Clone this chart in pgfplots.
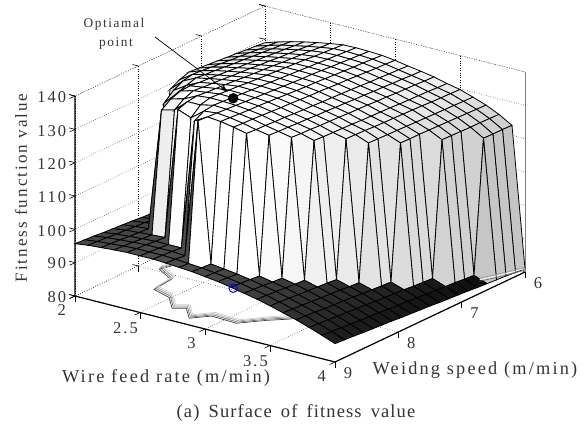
\documentclass[border=0pt]{standalone}
\usepackage{fontspec}
\setmainfont{Liberation Serif}
\newfontfamily\lblfont[LetterSpace=12]{Liberation Serif}
\newfontfamily\capfont[LetterSpace=6,WordSpace=1.6]{Liberation Serif}
\usepackage{pgfplots}
\pgfplotsset{compat=1.18}
\usetikzlibrary{calc,arrows.meta}
\definecolor{txt}{gray}{0.2}
\pgfplotstableread{
x y z
2.16 7.79 80
2.13 7.92 80
2.30 8.08 80
2.32 8.39 80
2.48 8.48 80
2.61 8.70 80
2.68 8.62 80
2.80 8.82 80
2.89 8.65 80
3.09 8.67 80
3.21 8.44 80
3.31 8.29 80
3.60 7.60 80
}\contourtab
\pgfplotstableread{
x y z
3.89 6.49 81
3.95 6.25 81
4.00 6.00 81
}\contourend
\begin{document}
\begin{tikzpicture}
\begin{axis}[
    disabledatascaling,
    x={(130pt,-33pt)}, y={(63.33pt,30pt)}, z={(0pt,3.333pt)},
    y dir=reverse,
    xmin=2, xmax=4, ymin=6, ymax=9, zmin=80, zmax=140,
    xtick={2,2.5,3,3.5,4}, ytick={6,7,8,9}, ztick={80,90,...,140},
    xtick pos=left, ytick pos=left, ztick pos=left, zticklabel pos=left,
    tick align=outside, major tick length=6pt,
    tick style={black, line width=0.6pt},
    axis line style={draw=none},
    grid=major, grid style={dotted, black, line width=0.55pt},
    /pgf/number format/assume math mode=true,
    ticklabel style={font=\lblfont\fontsize{16.5}{16.5}\selectfont, text=txt},
    xticklabel style={xshift=-2pt, yshift=-2pt},
    zticklabel style={yshift=3pt},
    colormap={bw}{gray(0cm)=(0); gray(1cm)=(1)},
    point meta min=80, point meta max=136,
    clip=false,
]
% box edges behind the surface
\draw[dotted, black!70, line width=0.6pt] (axis cs:2,6,140) -- (axis cs:2,9,140);
\draw[dotted, black!70, line width=0.6pt] (axis cs:2,6,140) -- (axis cs:4,6,140);
\draw[black!50, line width=0.8pt] (axis cs:4,6,80) -- (axis cs:4,6,140);
\addplot3[black!75, no marks, line width=0.7pt, xshift=-1.2pt, yshift=-1.2pt] table[x=x,y=y,z=z] {\contourtab};
\addplot3[black!55, no marks, line width=0.7pt] table[x=x,y=y,z=z] {\contourtab};
\addplot3[black!35, no marks, line width=0.7pt, xshift=1.2pt, yshift=1.2pt] table[x=x,y=y,z=z] {\contourtab};
\addplot3[black!20, no marks, line width=0.7pt, xshift=2.4pt, yshift=2.4pt] table[x=x,y=y,z=z] {\contourtab};
\addplot3[surf, shader=flat corner, draw=black, line width=0.8pt, z buffer=none,
    mesh/rows=21, mesh/cols=21, mesh/ordering=y varies] coordinates {
(2.0,6,129) (2.0,6.15,129.3) (2.0,6.3,129.5) (2.0,6.45,129.8) (2.0,6.6,130) (2.0,6.75,130.3) (2.0,6.9,130.5) (2.0,7.05,130.8) (2.0,7.2,131) (2.0,7.35,130) (2.0,7.5,128.5) (2.0,7.65,93.7) (2.0,7.8,93.9) (2.0,7.95,94.1) (2.0,8.1,94.4) (2.0,8.25,94.6) (2.0,8.4,94.8) (2.0,8.55,95) (2.0,8.7,95.3) (2.0,8.85,95.5) (2.0,9,95.7)
(2.1,6,130.2) (2.1,6.15,130.5) (2.1,6.3,130.7) (2.1,6.45,131) (2.1,6.6,131.3) (2.1,6.75,131.5) (2.1,6.9,131.8) (2.1,7.05,132.1) (2.1,7.2,132.4) (2.1,7.35,132.6) (2.1,7.5,132) (2.1,7.65,130.5) (2.1,7.8,128) (2.1,7.95,94.6) (2.1,8.1,94.9) (2.1,8.25,95.1) (2.1,8.4,95.3) (2.1,8.55,95.5) (2.1,8.7,95.8) (2.1,8.85,96) (2.1,9,96.2)
(2.2,6,131.3) (2.2,6.15,131.6) (2.2,6.3,131.8) (2.2,6.45,132.1) (2.2,6.6,132.3) (2.2,6.75,132.6) (2.2,6.9,132.8) (2.2,7.05,133.1) (2.2,7.2,133.4) (2.2,7.35,133.6) (2.2,7.5,133.9) (2.2,7.65,133) (2.2,7.8,132) (2.2,7.95,130) (2.2,8.1,95.2) (2.2,8.25,95.4) (2.2,8.4,95.6) (2.2,8.55,95.8) (2.2,8.7,96.1) (2.2,8.85,96.3) (2.2,9,96.5)
(2.3,6,132.2) (2.3,6.15,132.4) (2.3,6.3,132.7) (2.3,6.45,132.9) (2.3,6.6,133.2) (2.3,6.75,133.4) (2.3,6.9,133.7) (2.3,7.05,133.9) (2.3,7.2,134.2) (2.3,7.35,134.4) (2.3,7.5,134.7) (2.3,7.65,134.9) (2.3,7.8,135.2) (2.3,7.95,135) (2.3,8.1,134) (2.3,8.25,132) (2.3,8.4,95.9) (2.3,8.55,96.1) (2.3,8.7,96.4) (2.3,8.85,96.6) (2.3,9,96.8)
(2.4,6,133) (2.4,6.15,133.2) (2.4,6.3,133.5) (2.4,6.45,133.7) (2.4,6.6,133.9) (2.4,6.75,134.2) (2.4,6.9,134.4) (2.4,7.05,134.7) (2.4,7.2,134.9) (2.4,7.35,135.1) (2.4,7.5,135.4) (2.4,7.65,135.6) (2.4,7.8,135.8) (2.4,7.95,136.1) (2.4,8.1,135) (2.4,8.25,133) (2.4,8.4,96.1) (2.4,8.55,96.3) (2.4,8.7,96.6) (2.4,8.85,96.8) (2.4,9,97)
(2.5,6,133.7) (2.5,6.15,133.9) (2.5,6.3,134.2) (2.5,6.45,134.4) (2.5,6.6,134.6) (2.5,6.75,134.8) (2.5,6.9,135.1) (2.5,7.05,135.3) (2.5,7.2,135.5) (2.5,7.35,135.7) (2.5,7.5,136) (2.5,7.65,136.2) (2.5,7.8,136.4) (2.5,7.95,136.6) (2.5,8.1,136.9) (2.5,8.25,136.5) (2.5,8.4,135.5) (2.5,8.55,96.3) (2.5,8.7,96.6) (2.5,8.85,96.8) (2.5,9,97)
(2.6,6,134.3) (2.6,6.15,134.5) (2.6,6.3,134.7) (2.6,6.45,134.9) (2.6,6.6,135.2) (2.6,6.75,135.4) (2.6,6.9,135.6) (2.6,7.05,135.8) (2.6,7.2,136) (2.6,7.35,136.2) (2.6,7.5,136.4) (2.6,7.65,136.7) (2.6,7.8,136.9) (2.6,7.95,137.1) (2.6,8.1,137.3) (2.6,8.25,136.5) (2.6,8.4,134) (2.6,8.55,96.3) (2.6,8.7,96.6) (2.6,8.85,96.8) (2.6,9,97)
(2.7,6,134.4) (2.7,6.15,134.6) (2.7,6.3,134.8) (2.7,6.45,135) (2.7,6.6,135.2) (2.7,6.75,135.4) (2.7,6.9,135.6) (2.7,7.05,135.8) (2.7,7.2,136) (2.7,7.35,136.2) (2.7,7.5,136.4) (2.7,7.65,136.6) (2.7,7.8,136.8) (2.7,7.95,137) (2.7,8.1,137.2) (2.7,8.25,137.4) (2.7,8.4,137) (2.7,8.55,135.4) (2.7,8.7,96.3) (2.7,8.85,96.6) (2.7,9,96.8)
(2.8,6,134.3) (2.8,6.15,134.5) (2.8,6.3,134.7) (2.8,6.45,134.9) (2.8,6.6,135.1) (2.8,6.75,135.3) (2.8,6.9,135.5) (2.8,7.05,135.6) (2.8,7.2,135.8) (2.8,7.35,136) (2.8,7.5,136.2) (2.8,7.65,136.4) (2.8,7.8,136.6) (2.8,7.95,136.8) (2.8,8.1,137) (2.8,8.25,137.2) (2.8,8.4,137.4) (2.8,8.55,137.6) (2.8,8.7,137.8) (2.8,8.85,96.3) (2.8,9,96.5)
(2.9,6,134.1) (2.9,6.15,134.3) (2.9,6.3,134.5) (2.9,6.45,134.6) (2.9,6.6,134.8) (2.9,6.75,135) (2.9,6.9,135.2) (2.9,7.05,135.4) (2.9,7.2,135.5) (2.9,7.35,135.7) (2.9,7.5,135.9) (2.9,7.65,136.1) (2.9,7.8,136.3) (2.9,7.95,136.5) (2.9,8.1,136.6) (2.9,8.25,136.8) (2.9,8.4,137) (2.9,8.55,137.2) (2.9,8.7,95.8) (2.9,8.85,96) (2.9,9,96.2)
(3.0,6,133.6) (3.0,6.15,133.8) (3.0,6.3,133.9) (3.0,6.45,134.1) (3.0,6.6,134.3) (3.0,6.75,134.5) (3.0,6.9,134.6) (3.0,7.05,134.8) (3.0,7.2,135) (3.0,7.35,135.1) (3.0,7.5,135.3) (3.0,7.65,135.5) (3.0,7.8,135.6) (3.0,7.95,135.8) (3.0,8.1,136) (3.0,8.25,136.2) (3.0,8.4,136.3) (3.0,8.55,136.5) (3.0,8.7,95.3) (3.0,8.85,95.5) (3.0,9,95.7)
(3.1,6,132.9) (3.1,6.15,133.1) (3.1,6.3,133.2) (3.1,6.45,133.4) (3.1,6.6,133.5) (3.1,6.75,133.7) (3.1,6.9,133.9) (3.1,7.05,134) (3.1,7.2,134.2) (3.1,7.35,134.3) (3.1,7.5,134.5) (3.1,7.65,134.6) (3.1,7.8,134.8) (3.1,7.95,135) (3.1,8.1,135.1) (3.1,8.25,135.3) (3.1,8.4,135.4) (3.1,8.55,135.6) (3.1,8.7,94.8) (3.1,8.85,95) (3.1,9,95.2)
(3.2,6,132.3) (3.2,6.15,132.4) (3.2,6.3,132.6) (3.2,6.45,132.7) (3.2,6.6,132.9) (3.2,6.75,133) (3.2,6.9,133.2) (3.2,7.05,133.3) (3.2,7.2,133.5) (3.2,7.35,133.6) (3.2,7.5,133.8) (3.2,7.65,133.9) (3.2,7.8,134.1) (3.2,7.95,134.2) (3.2,8.1,134.4) (3.2,8.25,134.5) (3.2,8.4,134.7) (3.2,8.55,93.8) (3.2,8.7,94.1) (3.2,8.85,94.3) (3.2,9,94.5)
(3.3,6,131.6) (3.3,6.15,131.7) (3.3,6.3,131.9) (3.3,6.45,132) (3.3,6.6,132.1) (3.3,6.75,132.3) (3.3,6.9,132.4) (3.3,7.05,132.6) (3.3,7.2,132.7) (3.3,7.35,132.8) (3.3,7.5,133) (3.3,7.65,133.1) (3.3,7.8,133.2) (3.3,7.95,133.4) (3.3,8.1,133.5) (3.3,8.25,133.7) (3.3,8.4,92.8) (3.3,8.55,93) (3.3,8.7,93.3) (3.3,8.85,93.5) (3.3,9,93.7)
(3.4,6,130.6) (3.4,6.15,130.7) (3.4,6.3,130.9) (3.4,6.45,131) (3.4,6.6,131.1) (3.4,6.75,131.2) (3.4,6.9,131.4) (3.4,7.05,131.5) (3.4,7.2,131.6) (3.4,7.35,131.7) (3.4,7.5,131.9) (3.4,7.65,132) (3.4,7.8,132.1) (3.4,7.95,132.2) (3.4,8.1,132.4) (3.4,8.25,91.8) (3.4,8.4,92) (3.4,8.55,92.2) (3.4,8.7,92.5) (3.4,8.85,92.7) (3.4,9,92.9)
(3.5,6,129.8) (3.5,6.15,129.9) (3.5,6.3,130) (3.5,6.45,130.1) (3.5,6.6,130.3) (3.5,6.75,130.4) (3.5,6.9,130.5) (3.5,7.05,130.6) (3.5,7.2,130.7) (3.5,7.35,130.8) (3.5,7.5,131) (3.5,7.65,131.1) (3.5,7.8,131.2) (3.5,7.95,90.3) (3.5,8.1,90.6) (3.5,8.25,90.8) (3.5,8.4,91) (3.5,8.55,91.2) (3.5,8.7,91.5) (3.5,8.85,91.7) (3.5,9,91.9)
(3.6,6,128.5) (3.6,6.15,128.6) (3.6,6.3,128.7) (3.6,6.45,128.8) (3.6,6.6,128.9) (3.6,6.75,129) (3.6,6.9,129.1) (3.6,7.05,129.2) (3.6,7.2,129.3) (3.6,7.35,129.4) (3.6,7.5,129.5) (3.6,7.65,129.6) (3.6,7.8,89) (3.6,7.95,89.2) (3.6,8.1,89.5) (3.6,8.25,89.7) (3.6,8.4,89.9) (3.6,8.55,90.1) (3.6,8.7,90.4) (3.6,8.85,90.6) (3.6,9,90.8)
(3.7,6,127.1) (3.7,6.15,127.2) (3.7,6.3,127.3) (3.7,6.45,127.4) (3.7,6.6,127.5) (3.7,6.75,127.6) (3.7,6.9,127.7) (3.7,7.05,127.8) (3.7,7.2,127.8) (3.7,7.35,127.9) (3.7,7.5,87.5) (3.7,7.65,87.7) (3.7,7.8,87.9) (3.7,7.95,88.1) (3.7,8.1,88.4) (3.7,8.25,88.6) (3.7,8.4,88.8) (3.7,8.55,89) (3.7,8.7,89.3) (3.7,8.85,89.5) (3.7,9,89.7)
(3.8,6,125.3) (3.8,6.15,125.4) (3.8,6.3,125.5) (3.8,6.45,125.5) (3.8,6.6,125.6) (3.8,6.75,125.7) (3.8,6.9,125.8) (3.8,7.05,85.5) (3.8,7.2,85.7) (3.8,7.35,85.9) (3.8,7.5,86.2) (3.8,7.65,86.4) (3.8,7.8,86.6) (3.8,7.95,86.8) (3.8,8.1,87.1) (3.8,8.25,87.3) (3.8,8.4,87.5) (3.8,8.55,87.7) (3.8,8.7,88) (3.8,8.85,88.2) (3.8,9,88.4)
(3.9,6,123) (3.9,6.15,123.1) (3.9,6.3,123.1) (3.9,6.45,123.2) (3.9,6.6,83.4) (3.9,6.75,83.6) (3.9,6.9,83.9) (3.9,7.05,84.1) (3.9,7.2,84.3) (3.9,7.35,84.5) (3.9,7.5,84.8) (3.9,7.65,85) (3.9,7.8,85.2) (3.9,7.95,85.4) (3.9,8.1,85.7) (3.9,8.25,85.9) (3.9,8.4,86.1) (3.9,8.55,86.3) (3.9,8.7,86.6) (3.9,8.85,86.8) (3.9,9,87)
(4.0,6,81) (4.0,6.15,81.2) (4.0,6.3,81.5) (4.0,6.45,81.7) (4.0,6.6,81.9) (4.0,6.75,82.1) (4.0,6.9,82.4) (4.0,7.05,82.6) (4.0,7.2,82.8) (4.0,7.35,83) (4.0,7.5,83.3) (4.0,7.65,83.5) (4.0,7.8,83.7) (4.0,7.95,83.9) (4.0,8.1,84.2) (4.0,8.25,84.4) (4.0,8.4,84.6) (4.0,8.55,84.8) (4.0,8.7,85.1) (4.0,8.85,85.3) (4.0,9,85.5)
};
% contour ends in front of the last wall
\addplot3[black!60, no marks, line width=0.6pt, yshift=-1.5pt] table[x=x,y=y,z=z] {\contourend};
\addplot3[white, no marks, line width=0.7pt] table[x=x,y=y,z=z] {\contourend};
\addplot3[black!40, no marks, line width=0.6pt, yshift=1.5pt] table[x=x,y=y,z=z] {\contourend};
% optimal point and its foot on the floor
\addplot3[only marks, mark=*, mark size=5pt, black] coordinates {(2.71,7.96,137)};
\addplot3[only marks, mark=o, mark size=4.2pt, blue, line width=1pt] coordinates {(2.71,7.96,80)};
% front box edges
\draw[black, line width=1.2pt] (axis cs:2,9,140) -- (axis cs:2,9,80) -- (axis cs:4,9,80) -- (axis cs:4,6,80);
\coordinate (PA) at (axis cs:2,9,80);
\end{axis}
\coordinate (O) at ($(PA)+(-75pt,296pt)$);
\begin{scope}[shift={(O)}, x=1pt, y=-1pt]
\draw[black, line width=0.7pt, -{Latex[length=7pt,width=5pt]}] (155,37) -- (228,92);
\node[font=\lblfont\fontsize{13.3}{13.3}\selectfont, text=txt] at (114,24) {Optiamal};
\node[font=\lblfont\fontsize{13.3}{13.3}\selectfont, text=txt] at (116,44) {point};
\node[font=\lblfont\fontsize{18.3}{18.3}\selectfont, text=txt] at (166,378) {Wire feed rate (m/min)};
\node[font=\lblfont\fontsize{18.3}{18.3}\selectfont, text=txt] at (475,370) {Weidng speed (m/min)};
\node[font=\lblfont\fontsize{17}{17}\selectfont, text=txt, rotate=90] at (21,188) {Fitness function value};
\node[font=\capfont\fontsize{18.5}{18.5}\selectfont, text=txt] at (296,413) {(a) Surface of fitness value};
\pgfresetboundingbox
\path[use as bounding box] (0,0) rectangle (585,425);
\end{scope}
\end{tikzpicture}
\end{document}
